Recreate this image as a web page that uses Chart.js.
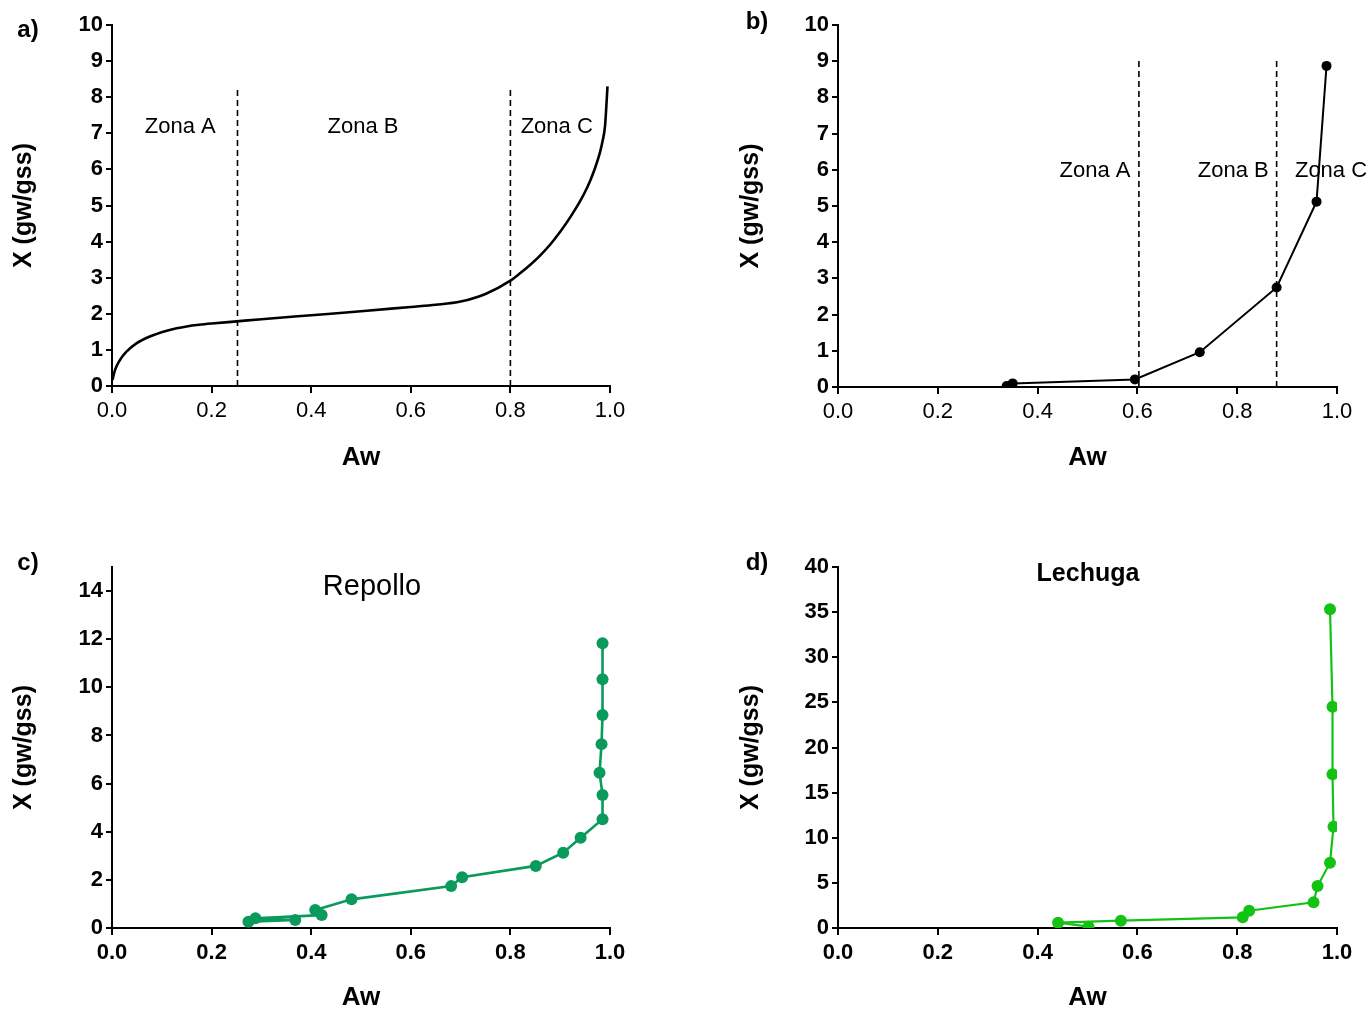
<!DOCTYPE html>
<html>
<head>
<meta charset="utf-8">
<script src="https://cdn.jsdelivr.net/npm/chart.js@4.4.0/dist/chart.umd.min.js"></script>
<style>
  html, body { margin: 0; padding: 0; background: #fff; }
  body { width: 1370px; height: 1011px; position: relative; overflow: hidden; }
  canvas { position: absolute; }
</style>
</head>
<body>
<canvas id="chartA" width="685" height="500" style="left:0;top:0"></canvas>
<canvas id="chartB" width="640" height="500" style="left:730px;top:0"></canvas>
<canvas id="chartC" width="685" height="506" style="left:0;top:505px"></canvas>
<canvas id="chartD" width="640" height="506" style="left:730px;top:505px"></canvas>
<script>
// a) modelled isotherm
const isoAw = [0.001, 0.006, 0.016, 0.029, 0.049, 0.076, 0.11, 0.13, 0.15, 0.175, 0.2, 0.25, 0.3, 0.4, 0.5, 0.6, 0.65, 0.7, 0.75, 0.8, 0.82, 0.84, 0.86, 0.88, 0.9, 0.92, 0.94, 0.95, 0.96, 0.97, 0.98, 0.985, 0.99, 0.995];
const isoX  = [0.17, 0.44, 0.72, 0.95, 1.18, 1.37, 1.53, 1.6, 1.65, 1.695, 1.73, 1.79, 1.85, 1.96, 2.07, 2.19, 2.25, 2.34, 2.55, 2.92, 3.13, 3.36, 3.62, 3.92, 4.27, 4.67, 5.12, 5.38, 5.68, 6.04, 6.48, 6.78, 7.2, 8.3];
const zonesA = [0.252, 0.8];
const zonesATop = 8.3;

// b) experimental points
const expAw = [0.338, 0.350, 0.595, 0.725, 0.879, 0.959, 0.979];
const expX  = [0.03, 0.10, 0.21, 0.96, 2.75, 5.12, 8.87];
const zonesB = [0.603, 0.879];
const zonesBTop = 9.03;

// c) Repollo
const repolloAw = [0.274, 0.368, 0.288, 0.421, 0.408, 0.481, 0.681, 0.703, 0.851, 0.906, 0.941, 0.985, 0.985, 0.979, 0.983, 0.985, 0.985, 0.985];
const repolloX  = [0.26, 0.33, 0.40, 0.54, 0.75, 1.19, 1.74, 2.11, 2.58, 3.13, 3.75, 4.52, 5.53, 6.45, 7.64, 8.85, 10.34, 11.83];

// d) Lechuga
const lechugaAw = [0.502, 0.441, 0.567, 0.811, 0.824, 0.953, 0.961, 0.986, 0.993, 0.991, 0.991, 0.986];
const lechugaX  = [0.15, 0.59, 0.81, 1.18, 1.92, 2.84, 4.65, 7.24, 11.23, 17.03, 24.52, 35.31];

const zoneNames = ['Zona A', 'Zona B', 'Zona C'];
const zoneLabelAwA = [0.137, 0.504, 0.893];
const zoneLabelAwB = [0.515, 0.792, 0.988];

const FONT = '"Liberation Sans", Arial, sans-serif';

function pts(xs, ys) {
    return xs.map((v, i) => ({ x: v, y: ys[i] }));
}

function dashed(at, top) {
    return {
        data: [{ x: at, y: 0 }, { x: at, y: top }],
        showLine: true,
        borderColor: '#000',
        borderWidth: 1.6,
        borderDash: [6, 4],
        pointRadius: 0
    };
}

// draws panel letters, zone labels and titles
const textPlugin = {
    id: 'panelText',
    afterDraw(chart, args, opts) {
        const ctx = chart.ctx;
        ctx.save();
        (opts.items || []).forEach(t => {
            let x = t.x, y = t.y;
            if (t.data) {
                x = chart.scales.x.getPixelForValue(t.x);
                y = chart.scales.y.getPixelForValue(t.y);
            }
            ctx.font = t.font;
            ctx.fillStyle = '#000';
            ctx.textAlign = 'center';
            ctx.textBaseline = 'middle';
            ctx.fillText(t.text, x, y);
        });
        ctx.restore();
    }
};

function makeOptions(cfg) {
    return {
        responsive: false,
        animation: false,
        layout: { padding: cfg.padding },
        plugins: {
            legend: { display: false },
            tooltip: { enabled: false },
            panelText: { items: cfg.texts }
        },
        scales: {
            x: {
                type: 'linear',
                min: 0,
                max: 1,
                afterFit: s => { s.height = cfg.xHeight; },
                ticks: {
                    stepSize: 0.2,
                    padding: 5,
                    color: '#000',
                    font: { family: FONT, size: 22, weight: cfg.xBold ? 'bold' : 'normal' },
                    callback: v => v.toFixed(1)
                },
                grid: { drawOnChartArea: false, drawTicks: true, tickLength: 7, color: '#000', lineWidth: 2 },
                border: { display: true, color: '#000', width: 2 },
                title: {
                    display: true,
                    text: 'Aw',
                    color: '#000',
                    font: { family: FONT, size: 26, weight: 'bold', lineHeight: 1 },
                    padding: { top: 0, bottom: cfg.xTitlePad }
                }
            },
            y: {
                type: 'linear',
                min: 0,
                max: cfg.yMax,
                afterFit: s => { s.width = cfg.yWidth; },
                ticks: {
                    stepSize: cfg.yStep,
                    includeBounds: false,
                    padding: 3,
                    color: '#000',
                    font: { family: FONT, size: 22, weight: 'bold' }
                },
                grid: { drawOnChartArea: false, drawTicks: true, tickLength: 6, color: '#000', lineWidth: 2 },
                border: { display: true, color: '#000', width: 2 },
                title: {
                    display: true,
                    text: 'X (gw/gss)',
                    color: '#000',
                    font: { family: FONT, size: 25, weight: 'bold', lineHeight: 1 },
                    padding: { top: cfg.yTitlePad, bottom: 0 }
                }
            }
        }
    };
}

const zoneFont = '22px ' + FONT;
const letterFont = 'bold 24px ' + FONT;

// a)
new Chart(document.getElementById('chartA'), {
    type: 'scatter',
    data: {
        datasets: [
            {
                data: pts(isoAw, isoX),
                showLine: true,
                cubicInterpolationMode: 'monotone',
                borderColor: '#000',
                borderWidth: 2.6,
                pointRadius: 0
            },
            dashed(zonesA[0], zonesATop),
            dashed(zonesA[1], zonesATop)
        ]
    },
    options: makeOptions({
        padding: { left: 0, top: 25, right: 75, bottom: 0 },
        xHeight: 114, yWidth: 112, yMax: 10, yStep: 1,
        xBold: false, xTitlePad: 29, yTitlePad: 12,
        texts: [
            { text: 'a)', x: 28, y: 30, font: letterFont },
            { text: zoneNames[0], x: zoneLabelAwA[0], y: 7.17, data: true, font: zoneFont },
            { text: zoneNames[1], x: zoneLabelAwA[1], y: 7.17, data: true, font: zoneFont },
            { text: zoneNames[2], x: zoneLabelAwA[2], y: 7.17, data: true, font: zoneFont }
        ]
    }),
    plugins: [textPlugin]
});

// b)
new Chart(document.getElementById('chartB'), {
    type: 'scatter',
    data: {
        datasets: [
            dashed(zonesB[0], zonesBTop),
            dashed(zonesB[1], zonesBTop),
            {
                data: pts(expAw, expX),
                showLine: true,
                borderColor: '#000',
                backgroundColor: '#000',
                borderWidth: 2,
                pointRadius: 5,
                pointBorderWidth: 0
            }
        ]
    },
    options: makeOptions({
        padding: { left: 0, top: 25, right: 33, bottom: 0 },
        xHeight: 113, yWidth: 108, yMax: 10, yStep: 1,
        xBold: false, xTitlePad: 29, yTitlePad: 9,
        texts: [
            { text: 'b)', x: 27, y: 22, font: letterFont },
            { text: zoneNames[0], x: zoneLabelAwB[0], y: 5.98, data: true, font: zoneFont },
            { text: zoneNames[1], x: zoneLabelAwB[1], y: 5.98, data: true, font: zoneFont },
            { text: zoneNames[2], x: zoneLabelAwB[2], y: 5.98, data: true, font: zoneFont }
        ]
    }),
    plugins: [textPlugin]
});

// c)
new Chart(document.getElementById('chartC'), {
    type: 'scatter',
    data: {
        datasets: [{
            data: pts(repolloAw, repolloX),
            showLine: true,
            borderColor: '#0a9a5c',
            backgroundColor: '#0a9a5c',
            borderWidth: 2.6,
            pointRadius: 6,
            pointBorderWidth: 0
        }]
    },
    options: makeOptions({
        padding: { left: 0, top: 62, right: 75, bottom: 0 },
        xHeight: 83, yWidth: 112, yMax: 15, yStep: 2,
        xBold: true, xTitlePad: 0, yTitlePad: 12,
        texts: [
            { text: 'c)', x: 28, y: 58, font: letterFont },
            { text: 'Repollo', x: 372, y: 82, font: '29px ' + FONT }
        ]
    }),
    plugins: [textPlugin]
});

// d)
new Chart(document.getElementById('chartD'), {
    type: 'scatter',
    data: {
        datasets: [{
            data: pts(lechugaAw, lechugaX),
            showLine: true,
            borderColor: '#14c214',
            backgroundColor: '#14c214',
            borderWidth: 2.2,
            pointRadius: 6,
            pointBorderWidth: 0
        }]
    },
    options: makeOptions({
        padding: { left: 0, top: 62, right: 33, bottom: 0 },
        xHeight: 83, yWidth: 108, yMax: 40, yStep: 5,
        xBold: true, xTitlePad: 0, yTitlePad: 9,
        texts: [
            { text: 'd)', x: 27, y: 58, font: letterFont },
            { text: 'Lechuga', x: 358, y: 69, font: 'bold 25px ' + FONT }
        ]
    }),
    plugins: [textPlugin]
});
</script>
</body>
</html>
